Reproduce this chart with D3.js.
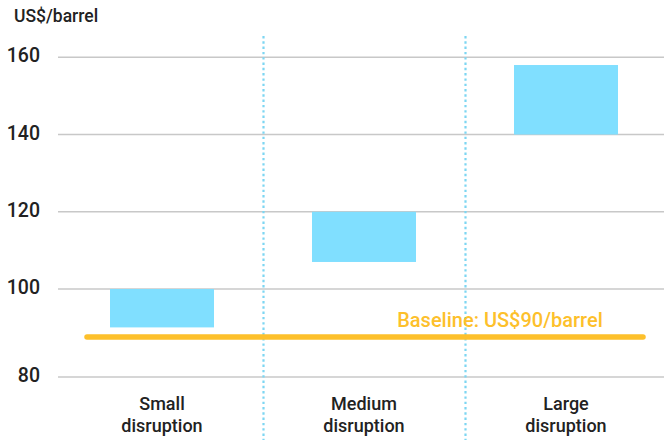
<!DOCTYPE html>
<html>
<head>
<meta charset="utf-8">
<script src="https://cdn.jsdelivr.net/npm/d3@7"></script>
<style>
  html, body { margin: 0; padding: 0; background: #fff; }
  svg text { font-family: Roboto, "Noto Sans", sans-serif; }
</style>
</head>
<body>
<div id="chart"></div>
<script>
// data
const categories = ['Small disruption', 'Medium disruption', 'Large disruption'];
const lowValues = [92, 107, 140];
const highValues = [100, 120, 158];
const yTicks = [80, 100, 120, 140, 160];
const baselineValue = 90;
const baselineLabel = 'Baseline: US$90/barrel';
const unitLabel = 'US$/barrel';

const width = 664;
const height = 440;

const svg = d3
  .select('#chart')
  .append('svg')
  .attr('width', width)
  .attr('height', height);

// axis is broken below 100, so the bottom segment is stretched
const yScale = d3.scaleLinear().domain([80, 90, 100, 160]).range([377, 337, 289, 57.3]);
const xScale = d3.scaleBand().domain(categories).range([61, 667]).paddingInner(0);
const barWidth = 104;

// gridlines
svg
  .append('g')
  .selectAll('line')
  .data(yTicks)
  .enter()
  .append('line')
  .attr('x1', 58)
  .attr('x2', width)
  .attr('y1', d => yScale(d))
  .attr('y2', d => yScale(d))
  .attr('stroke', '#c8c8c8')
  .attr('stroke-width', 1.5);

// tick labels
svg
  .append('g')
  .selectAll('text')
  .data(yTicks)
  .enter()
  .append('text')
  .attr('x', 40)
  .attr('y', d => yScale(d) + 5)
  .attr('text-anchor', 'end')
  .attr('font-size', 19.5)
  .attr('font-weight', 500)
  .attr('fill', '#222')
  .text(d => d);

svg
  .append('text')
  .attr('x', 14)
  .attr('y', 21.5)
  .attr('font-size', 17.5)
  .attr('font-weight', 500)
  .attr('fill', '#222')
  .text(unitLabel);

// dotted dividers between categories
svg
  .append('g')
  .selectAll('line')
  .data(categories.slice(1))
  .enter()
  .append('line')
  .attr('x1', d => xScale(d) + 0.5)
  .attr('x2', d => xScale(d) + 0.5)
  .attr('y1', 36)
  .attr('y2', height)
  .attr('stroke', '#7dd6f2')
  .attr('stroke-width', 2.2)
  .attr('stroke-dasharray', '2.4 2.9');

// range bars
svg
  .append('g')
  .selectAll('rect')
  .data(categories)
  .enter()
  .append('rect')
  .attr('x', d => xScale(d) + xScale.bandwidth() / 2 - barWidth / 2)
  .attr('width', barWidth)
  .attr('y', (d, i) => yScale(highValues[i]))
  .attr('height', (d, i) => yScale(lowValues[i]) - yScale(highValues[i]))
  .attr('fill', '#80dfff');

// baseline
svg
  .append('line')
  .attr('x1', 87)
  .attr('x2', 643)
  .attr('y1', yScale(baselineValue))
  .attr('y2', yScale(baselineValue))
  .attr('stroke', '#fdc02b')
  .attr('stroke-width', 5.5)
  .attr('stroke-linecap', 'round');

svg
  .append('text')
  .attr('x', 500)
  .attr('y', yScale(baselineValue) - 10.5)
  .attr('text-anchor', 'middle')
  .attr('font-size', 20)
  .attr('font-weight', 500)
  .attr('fill', '#fdc02b')
  .text(baselineLabel);

// category labels, two lines each
const catLabels = svg
  .append('g')
  .selectAll('text')
  .data(categories)
  .enter()
  .append('text')
  .attr('text-anchor', 'middle')
  .attr('font-size', 18)
  .attr('font-weight', 500)
  .attr('fill', '#222');

catLabels
  .selectAll('tspan')
  .data(d => d.split(' ').map(w => ({ w, c: d })))
  .enter()
  .append('tspan')
  .attr('x', d => xScale(d.c) + xScale.bandwidth() / 2)
  .attr('y', (d, i) => 409.5 + i * 22)
  .text(d => d.w);
</script>
</body>
</html>
